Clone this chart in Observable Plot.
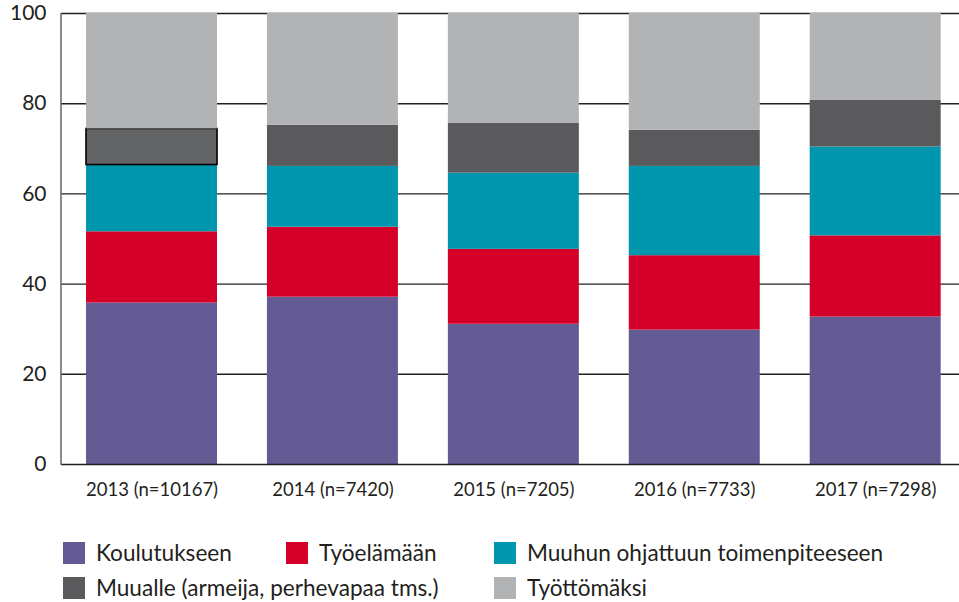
<!DOCTYPE html>
<html><head><meta charset="utf-8">
<script src="https://cdn.jsdelivr.net/npm/d3@7"></script>
<script src="https://cdn.jsdelivr.net/npm/@observablehq/plot@0.6"></script>
<style>
body{margin:0;background:#fff;font-family:Lato, "Noto Sans", sans-serif;color:#231f20;}
#wrap{position:relative;width:959px;height:602px;overflow:hidden;}
#chart{position:absolute;left:0;top:0;}
.item{position:absolute;display:flex;align-items:center;font-size:22.6px;line-height:22px;white-space:nowrap;}
.sw{width:22px;height:22px;margin-right:11px;flex:none;}
</style></head><body>
<div id="wrap"><div id="chart"></div><div id="legend"></div></div>
<script>
const years = ["2013 (n=10167)", "2014 (n=7420)", "2015 (n=7205)", "2016 (n=7733)", "2017 (n=7298)"];
const categories = ["Koulutukseen", "Työelämään", "Muuhun ohjattuun toimenpiteeseen", "Muualle (armeija, perhevapaa tms.)", "Työttömäksi"];
const koulutukseen = [35.8, 37.1, 31.1, 29.8, 32.7];
const tyoelamaan   = [15.8, 15.5, 16.6, 16.5, 18.0];
const muuhun       = [14.8, 13.5, 16.9, 19.8, 19.7];
const muualle      = [8.0, 9.1, 11.1, 8.0, 10.4];
const tyottomaksi  = [25.6, 24.8, 24.3, 25.9, 19.2];
const yTicks = [0, 20, 40, 60, 80, 100];

const colors = ["#655b94", "#d50029", "#0096ad", "#5a5a5c", "#b2b3b5"];
const highlightFill = "#636466";
const series = [koulutukseen, tyoelamaan, muuhun, muualle, tyottomaksi];

const data = [];
categories.forEach((c, ci) => {
  years.forEach((y, yi) => {
    const hl = ci === 3 && yi === 0;
    data.push({year: y, category: c, value: series[ci][yi],
      fill: hl ? highlightFill : colors[ci], stroke: hl ? "#000" : "none"});
  });
});

const W = 959, H = 510;
const chart = Plot.plot({
  width: W, height: H,
  marginLeft: 61, marginRight: 0, marginTop: 13, marginBottom: 46,
  style: {fontFamily: "Lato, 'Noto Sans', sans-serif", color: "#231f20", background: "#fff"},
  x: {domain: years, range: [60.7, 966], round: false, paddingInner: 0.276, paddingOuter: 0.14, label: null},
  y: {domain: [0, 100], label: null},
  color: {type: "identity"},
  marks: [
    Plot.ruleY(yTicks.filter(d => d > 0), {stroke: "#231f20", strokeWidth: 1.4}),
    Plot.barY(data, Plot.stackY({x: "year", y: "value", z: "category", fill: "fill", stroke: "stroke", strokeWidth: 1.6, order: null})),
    Plot.ruleY([0], {stroke: "#231f20", strokeWidth: 1.6}),
    (index, scales, values, dims) => {
      const g = document.createElementNS("http://www.w3.org/2000/svg", "line");
      const x = dims.marginLeft;
      g.setAttribute("x1", x); g.setAttribute("x2", x);
      g.setAttribute("y1", scales.y(0) + 0.8); g.setAttribute("y2", scales.y(100));
      g.setAttribute("stroke", "#6d6e71"); g.setAttribute("stroke-width", 1.6);
      return g;
    },
    Plot.axisY(yTicks, {tickSize: 0, tickPadding: 15, fontSize: 21, label: null}),
    Plot.axisX({tickSize: 0, tickPadding: 18, fontSize: 18.5, label: null})
  ]
});
document.getElementById("chart").appendChild(chart);

const legendPos = [[63, 542], [286, 542], [494, 542], [63, 577], [494, 577]];
const legend = document.getElementById("legend");
categories.forEach((c, i) => {
  const it = document.createElement("div");
  it.className = "item";
  it.style.left = legendPos[i][0] + "px";
  it.style.top = legendPos[i][1] + "px";
  const sw = document.createElement("div");
  sw.className = "sw"; sw.style.background = colors[i];
  const t = document.createElement("span"); t.textContent = c;
  it.appendChild(sw); it.appendChild(t);
  legend.appendChild(it);
});
</script>
</body></html>
